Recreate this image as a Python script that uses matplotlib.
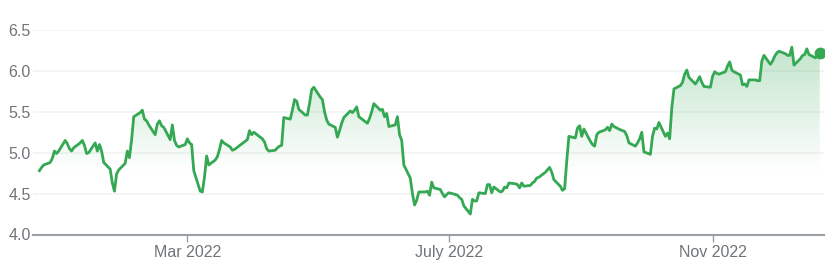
import numpy as np
import pandas as pd
import matplotlib
matplotlib.use("Agg")
import matplotlib.pyplot as plt
import matplotlib.dates as mdates
from matplotlib.colors import to_rgb

# ---- data ----
start_date = "2021-12-22"
end_date = "2022-12-21"
prices = [
    4.78, 4.82, 4.85, 4.88, 4.93, 5.02, 4.99, 5.02, 5.15, 5.11,
    5.05, 5.02, 5.06, 5.12, 5.15, 5.09, 4.99, 5.00, 5.12, 5.02,
    5.10, 5.02, 4.88, 4.80, 4.63, 4.53, 4.74, 4.79, 4.87, 5.02,
    4.94, 5.16, 5.44, 5.49, 5.52, 5.41, 5.39, 5.34, 5.22, 5.35,
    5.39, 5.33, 5.31, 5.16, 5.34, 5.15, 5.09, 5.07, 5.10, 5.17,
    5.12, 5.10, 4.78, 4.53, 4.52, 4.70, 4.96, 4.85, 4.91, 4.95,
    5.04, 5.15, 5.12, 5.07, 5.03, 5.04, 5.06, 5.08, 5.14, 5.16,
    5.27, 5.22, 5.25, 5.19, 5.17, 5.13, 5.05, 5.02, 5.03, 5.06,
    5.08, 5.09, 5.43, 5.41, 5.52, 5.65, 5.63, 5.53, 5.46, 5.46,
    5.60, 5.77, 5.80, 5.68, 5.65, 5.50, 5.40, 5.35, 5.31, 5.19,
    5.27, 5.36, 5.43, 5.51, 5.49, 5.52, 5.56, 5.44, 5.38, 5.36,
    5.42, 5.50, 5.60, 5.52, 5.53, 5.44, 5.48, 5.32, 5.34, 5.44,
    5.22, 5.15, 4.85, 4.69, 4.50, 4.36, 4.42, 4.52, 4.52, 4.53,
    4.48, 4.64, 4.57, 4.55, 4.50, 4.46, 4.49, 4.51, 4.49, 4.48,
    4.45, 4.43, 4.35, 4.25, 4.43, 4.41, 4.41, 4.51, 4.50, 4.61,
    4.61, 4.51, 4.58, 4.52, 4.53, 4.58, 4.57, 4.63, 4.62, 4.61,
    4.57, 4.63, 4.59, 4.60, 4.63, 4.65, 4.69, 4.70, 4.76, 4.79,
    4.82, 4.76, 4.67, 4.59, 4.54, 4.56, 4.90, 5.20, 5.18, 5.30,
    5.33, 5.20, 5.29, 5.14, 5.10, 5.08, 5.22, 5.25, 5.28, 5.31,
    5.27, 5.35, 5.32, 5.28, 5.27, 5.26, 5.21, 5.12, 5.08, 5.12,
    5.17, 5.25, 5.01, 4.98, 5.20, 5.30, 5.29, 5.37, 5.20, 5.24,
    5.17, 5.55, 5.78, 5.82, 5.86, 5.96, 6.01, 5.92, 5.84, 5.88,
    5.93, 5.86, 5.81, 5.80, 5.93, 5.99, 5.97, 5.96, 5.99, 6.06,
    6.11, 6.01, 5.99, 5.95, 5.83, 5.84, 5.81, 5.89, 5.89, 5.88,
    5.88, 6.12, 6.19, 6.08, 6.12, 6.18, 6.22, 6.24, 6.21, 6.19,
    6.19, 6.29, 6.07, 6.15, 6.19, 6.20, 6.27, 6.20, 6.16, 6.21,
    6.22,
]
y_ticks = [4.0, 4.5, 5.0, 5.5, 6.0, 6.5]
x_tick_dates = ["2022-03-01", "2022-07-01", "2022-11-01"]
x_tick_labels = ["Mar 2022", "July 2022", "Nov 2022"]

dates = pd.bdate_range(start_date, end_date)
values = np.array(prices)

# ---- style ----
GREEN = "#34a853"
GRID = "#f1f3f4"
AXIS = "#9aa0a6"
TEXT = "#70757a"
FONT = ["Liberation Sans", "DejaVu Sans"]

fig = plt.figure(figsize=(8.35, 2.74), dpi=100)
W, H = 835, 274
ax = fig.add_axes([33 / W, 1 - 234.5 / H, (824 - 33) / W, (234.5 - 30) / H])

ymin, ymax = 4.0, 6.5
ax.set_ylim(ymin, ymax)
ax.set_xlim(pd.Timestamp("2021-12-19"), pd.Timestamp("2022-12-23"))

# gridlines
for yt in y_ticks[1:]:
    ax.axhline(yt, color=GRID, lw=1.2, zorder=0)

# gradient fill under the line
xnum = mdates.date2num(dates)
poly = ax.fill_between(dates, values, ymin, color="none", lw=0)
r, g, b = to_rgb(GREEN)
ny = 256
ys = np.linspace(ymin, ymax, ny)
alpha = np.clip((ys - 4.75) / (6.3 - 4.75), 0, 1) * 0.30
img = np.zeros((ny, 2, 4))
img[..., 0] = r
img[..., 1] = g
img[..., 2] = b
img[..., 3] = alpha[:, None]
im = ax.imshow(img, extent=[xnum[0], xnum[-1], ymin, ymax], origin="lower",
               aspect="auto", zorder=1, interpolation="bilinear")
path = poly.get_paths()[0]
im.set_clip_path(path, transform=ax.transData)

ax.plot(dates, values, color=GREEN, lw=2.0, zorder=3, solid_joinstyle="round")
ax.plot(dates[-1:], values[-1:], "o", color=GREEN, ms=7.5, zorder=4)

# axes cosmetics
for s in ["top", "right", "left"]:
    ax.spines[s].set_visible(False)
ax.spines["bottom"].set_color(AXIS)
ax.spines["bottom"].set_linewidth(1.5)
ax.spines["bottom"].set_zorder(5)

ax.set_yticks(y_ticks)
ax.set_yticklabels([f"{v:.1f}" for v in y_ticks], fontsize=11.5, color=TEXT,
                   family=FONT)
ax.tick_params(axis="y", length=0, pad=1.5)

ax.set_xticks([pd.Timestamp(d) for d in x_tick_dates])
ax.set_xticklabels(x_tick_labels, fontsize=11.5, color=TEXT, family=FONT)
ax.tick_params(axis="x", length=5, width=1, color=AXIS, pad=2.5)

fig.savefig("out.png", dpi=100, facecolor="white")
